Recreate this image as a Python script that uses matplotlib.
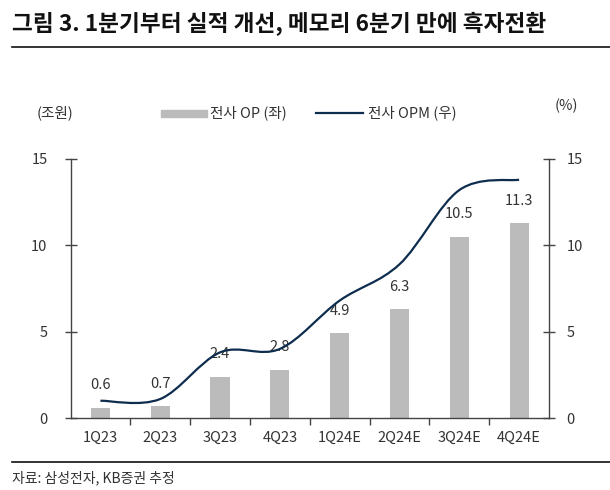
import matplotlib
matplotlib.use("Agg")
from matplotlib import pyplot as plt
from matplotlib.path import Path
from matplotlib.patches import PathPatch, Rectangle
from matplotlib.lines import Line2D
import numpy as np

plt.rcParams['font.family'] = ['Noto Sans CJK KR', 'DejaVu Sans']

#==============DATA==============
quarters = ["1Q23", "2Q23", "3Q23", "4Q23", "1Q24E", "2Q24E", "3Q24E", "4Q24E"]
op = [0.6, 0.7, 2.4, 2.8, 4.9, 6.3, 10.5, 11.3]        # 전사 OP (조원)
opm = [1.0, 1.1, 3.8, 4.0, 6.8, 8.9, 13.2, 13.8]       # 전사 OPM (%)
op_labels = ["0.6", "0.7", "2.4", "2.8", "4.9", "6.3", "10.5", "11.3"]
yticks = [0, 5, 10, 15]

bar_color = "#BBBBBB"
line_color = "#0E2D4E"
text_color = "#333333"
axis_color = "#444444"

fig = plt.figure(figsize=(6.1, 4.9), dpi=100)
ax = fig.add_axes([70.5 / 610, 72 / 490, (549 - 70.5) / 610, (418 - 159) / 490])
ax2 = ax.twinx()

x = np.arange(len(quarters))
ax.bar(x, op, width=0.32, color=bar_color, zorder=2)
for xi, v, lab in zip(x, op, op_labels):
    ax.annotate(lab, (xi, v), xytext=(0, 16), textcoords="offset points",
                ha="center", va="center", fontsize=10.5, color=text_color)

#==============SMOOTH LINE (excel style bezier)==============
pts = list(zip(x.astype(float), opm))
verts = [pts[0]]
codes = [Path.MOVETO]
for i in range(len(pts) - 1):
    p0 = pts[i - 1] if i > 0 else pts[i]
    p1 = pts[i]
    p2 = pts[i + 1]
    p3 = pts[i + 2] if i + 2 < len(pts) else pts[i + 1]
    c1 = (p1[0] + (p2[0] - p0[0]) / 6, p1[1] + (p2[1] - p0[1]) / 6)
    c2 = (p2[0] - (p3[0] - p1[0]) / 6, p2[1] - (p3[1] - p1[1]) / 6)
    verts += [c1, c2, p2]
    codes += [Path.CURVE4] * 3
ax2.add_patch(PathPatch(Path(verts, codes), facecolor="none", edgecolor=line_color,
                        lw=1.6, zorder=3))

#==============AXES==============
ax.set_xlim(-0.5, len(quarters) - 0.5)
ax.set_ylim(0, 15)
ax2.set_ylim(0, 15)
ax.set_yticks(yticks)
ax2.set_yticks(yticks)
ax.set_xticks(x)
ax.set_xticklabels(quarters)
ax.set_xticks(np.arange(0.5, len(quarters) - 1, 1), minor=True)

for a in (ax, ax2):
    a.spines["top"].set_visible(False)
    for s in ("left", "right", "bottom"):
        a.spines[s].set_color(axis_color)
        a.spines[s].set_linewidth(1)
ax.spines["right"].set_visible(False)
ax2.spines["left"].set_visible(False)
ax2.spines["bottom"].set_visible(False)

ax.tick_params(axis="y", direction="inout", length=9, width=1, color=axis_color,
               labelsize=10.5, labelcolor=text_color, pad=12)
ax2.tick_params(axis="y", direction="inout", length=9, width=1, color=axis_color,
                labelsize=10.5, labelcolor=text_color, pad=8)
ax.tick_params(axis="x", which="major", length=0, labelsize=10.5, labelcolor=text_color, pad=9)
ax.tick_params(axis="x", which="minor", direction="out", length=5, width=1, color=axis_color)

#==============TEXTS==============
fig.text(12 / 610, 1 - 24 / 490, "그림 3. 1분기부터 실적 개선, 메모리 6분기 만에 흑자전환",
         fontsize=16.3, fontweight="bold", color="#111111", va="center", ha="left")
fig.add_artist(Line2D([12 / 610, 1], [1 - 47.5 / 490] * 2, color="#111111", lw=1.2))
fig.add_artist(Line2D([12 / 610, 1], [1 - 462 / 490] * 2, color="#111111", lw=1.2))
fig.text(12 / 610, 1 - 478 / 490, "자료: 삼성전자, KB증권 추정", fontsize=10,
         color=text_color, va="center", ha="left")

fig.text(37 / 610, 1 - 113 / 490, "(조원)", fontsize=10.5, color=text_color, va="center")
fig.text(555 / 610, 1 - 106 / 490, "(%)", fontsize=10.5, color=text_color, va="center")
fig.add_artist(Rectangle((161 / 610, 1 - 117 / 490), 46 / 610, 7 / 490,
                         transform=fig.transFigure, color=bar_color))
fig.text(210 / 610, 1 - 113 / 490, "전사 OP (좌)", fontsize=10.5, color=text_color, va="center")
fig.add_artist(Line2D([316 / 610, 363 / 610], [1 - 113 / 490] * 2, color=line_color, lw=1.6))
fig.text(368 / 610, 1 - 113 / 490, "전사 OPM (우)", fontsize=10.5, color=text_color, va="center")

fig.savefig("out.png", dpi=100)
